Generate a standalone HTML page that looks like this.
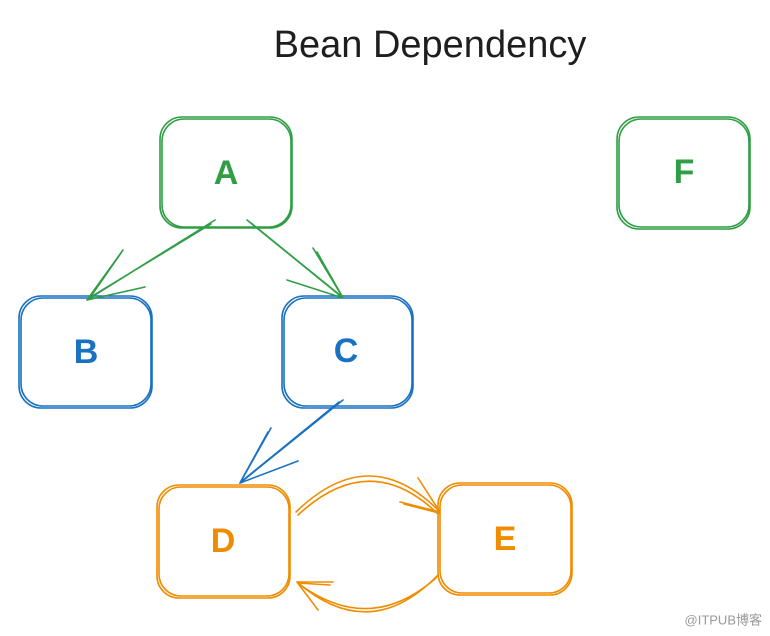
<!DOCTYPE html>
<html><head><meta charset="utf-8"><style>
html,body{margin:0;padding:0;background:#fff;}
svg{display:block}
</style></head><body>
<svg width="770" height="636" viewBox="0 0 770 636" xmlns="http://www.w3.org/2000/svg">
<g fill="none" stroke-width="1.6" stroke-linecap="round" stroke-linejoin="round">
 <!-- A -->
 <g stroke="#2f9e44">
  <rect x="160" y="117" width="132" height="111" rx="22"/>
  <rect x="162" y="119" width="129" height="108" rx="22"/>
 </g>
 <!-- F -->
 <g stroke="#2f9e44">
  <rect x="617" y="117" width="133" height="112" rx="22"/>
  <rect x="619" y="119" width="130" height="108" rx="22"/>
 </g>
 <!-- B -->
 <g stroke="#1971c2">
  <rect x="19" y="296" width="133" height="112" rx="22"/>
  <rect x="21" y="298" width="130" height="108" rx="22"/>
 </g>
 <!-- C -->
 <g stroke="#1971c2">
  <rect x="282" y="296" width="131" height="112" rx="22"/>
  <rect x="284" y="298" width="128" height="108" rx="22"/>
 </g>
 <!-- D -->
 <g stroke="#f08c00">
  <rect x="157" y="485" width="133" height="113" rx="22"/>
  <rect x="159" y="487" width="130" height="109" rx="22"/>
 </g>
 <!-- E -->
 <g stroke="#f08c00">
  <rect x="438" y="483" width="134" height="112" rx="22"/>
  <rect x="440" y="485" width="131" height="108" rx="22"/>
 </g>
 <!-- arrows -->
 <g stroke="#2f9e44">
  <path d="M215 220 L87 300 M211 224 L89 298"/>
  <path d="M123 250 L87 300 L145 287 M121 253 L89 299"/>
  <path d="M247 220 L343 298 M251 223 L341 296"/>
  <path d="M313 248 L343 298 L287 280 M317 252 L342 296"/>
 </g>
 <g stroke="#1971c2">
  <path d="M343 400 L240 483 M339 402 L242 481"/>
  <path d="M271 428 L240 483 L298 461 M268 432 L241 481"/>
 </g>
 <g stroke="#f08c00">
  <path d="M296 512 Q370 440 440 512 M298 515 Q370 448 438 514"/>
  <path d="M400 502 L440 512 L418 478 M404 504 L439 513"/>
  <path d="M438 575 Q370 645 297 582 M436 578 Q370 636 299 584"/>
  <path d="M333 582 L297 582 L318 610 M330 585 L298 583"/>
 </g>
</g>
<g font-family="'Liberation Sans', sans-serif" font-weight="bold" font-size="34" text-anchor="middle" dominant-baseline="central">
 <text x="226" y="173" fill="#2f9e44">A</text>
 <text x="684" y="172" fill="#2f9e44">F</text>
 <text x="86" y="352" fill="#1971c2">B</text>
 <text x="346" y="351" fill="#1971c2">C</text>
 <text x="223" y="541" fill="#f08c00">D</text>
 <text x="505" y="539" fill="#f08c00">E</text>
</g>
<text x="430" y="45" font-family="'Liberation Sans', sans-serif" font-size="38" text-anchor="middle" dominant-baseline="central" fill="#1e1e1e">Bean Dependency</text>
<text x="762" y="620" font-family="'Liberation Sans', 'Noto Sans CJK SC', sans-serif" font-size="13" text-anchor="end" dominant-baseline="central" fill="#999">@ITPUB博客</text>
</svg>
</body></html>
